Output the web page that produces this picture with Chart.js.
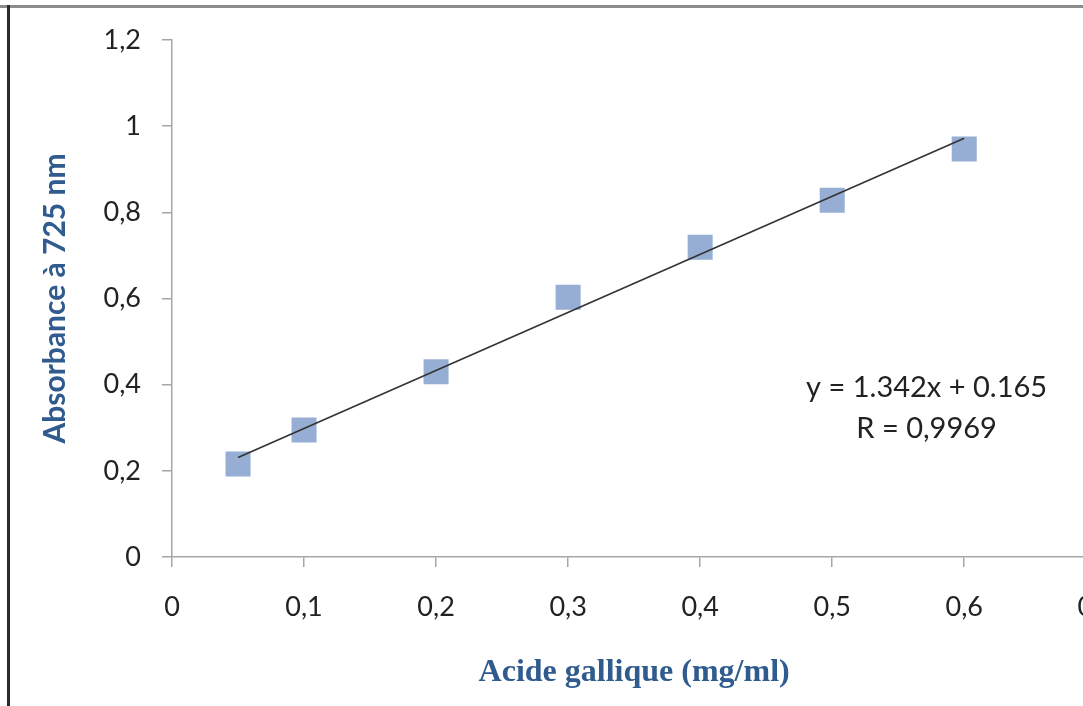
<!DOCTYPE html>
<html>
<head>
<meta charset="utf-8">
<script src="https://cdn.jsdelivr.net/npm/chart.js@4"></script>
<style>
  html, body { margin: 0; padding: 0; background: #fff; overflow: hidden; }
  #wrap { position: absolute; left: 0; top: 0; width: 1139px; height: 706px; }
  #frameTop { position: absolute; left: 0; top: 5px; width: 1083px; height: 3px; background: #8c8c8c; }
  #frameLeft { position: absolute; left: 7px; top: 5px; width: 3px; height: 701px; background: #2a2a2a; }
</style>
</head>
<body>
<div id="wrap"><canvas id="c" width="1139" height="706"></canvas></div>
<div id="frameTop"></div>
<div id="frameLeft"></div>
<script>
// Data
const concentrations = [0.05, 0.1, 0.2, 0.3, 0.4, 0.5, 0.6];
const absorbances   = [0.216, 0.295, 0.430, 0.603, 0.719, 0.828, 0.947];
const trendX = [0.05, 0.6];
const trendY = [0.231, 0.972];
const equationLines = ['y = 1.342x + 0.165', 'R = 0,9969'];
const xTitle = 'Acide gallique (mg/ml)';
const yTitle = 'Absorbance à 725 nm';

const fmt = v => String(Math.round(v * 10) / 10).replace('.', ',');

const equationPlugin = {
  id: 'equation',
  afterDatasetsDraw(chart) {
    const { ctx, scales } = chart;
    const cx = scales.x.getPixelForValue(0.5715);
    const y1 = scales.y.getPixelForValue(0.393);
    const y2 = scales.y.getPixelForValue(0.297);
    ctx.save();
    ctx.font = '29px Lato';
    ctx.fillStyle = '#222';
    ctx.textAlign = 'center';
    ctx.textBaseline = 'middle';
    ctx.fillText(equationLines[0], cx, y1);
    ctx.fillText(equationLines[1], cx, y2);
    ctx.restore();
  }
};

new Chart(document.getElementById('c'), {
  type: 'scatter',
  data: {
    datasets: [
      {
        label: 'Absorbance',
        data: concentrations.map((x, i) => ({ x, y: absorbances[i] })),
        pointStyle: 'rect',
        pointRadius: 17.7,
        pointHoverRadius: 17.7,
        backgroundColor: 'rgb(151,174,212)',
        borderWidth: 0,
        order: 2
      },
      {
        label: 'Tendance',
        type: 'line',
        data: trendX.map((x, i) => ({ x, y: trendY[i] })),
        borderColor: '#333',
        borderWidth: 1.6,
        pointRadius: 0,
        fill: false,
        order: 1
      }
    ]
  },
  options: {
    responsive: false,
    animation: false,
    events: [],
    layout: { padding: { top: 40, right: 24, left: 0, bottom: 0 } },
    plugins: { legend: { display: false }, tooltip: { enabled: false } },
    scales: {
      x: {
        type: 'linear',
        min: 0, max: 0.7,
        afterFit(s) { s.height = 149; },
        afterBuildTicks(s) { s.ticks = [0,0.1,0.2,0.3,0.4,0.5,0.6,0.7].map(v => ({ value: v })); },
        ticks: {
          callback: v => fmt(v),
          font: { family: 'Lato', size: 27 },
          color: '#222',
          padding: 24,
          maxRotation: 0
        },
        grid: { drawOnChartArea: false, tickLength: 10, color: '#a6a6a6', lineWidth: 1.5 },
        border: { color: '#a6a6a6', width: 1.5 },
        title: {
          display: true,
          text: xTitle,
          font: { family: 'Liberation Serif', size: 32, weight: 'bold' },
          color: '#2f5b8e',
          padding: { top: 0, bottom: 14 }
        }
      },
      y: {
        type: 'linear',
        min: 0, max: 1.2,
        afterFit(s) { s.width = 172; },
        afterBuildTicks(s) { s.ticks = [0,0.2,0.4,0.6,0.8,1,1.2].map(v => ({ value: v })); },
        ticks: {
          callback: v => fmt(v),
          font: { family: 'Lato', size: 27 },
          color: '#222',
          padding: 21
        },
        grid: { drawOnChartArea: false, tickLength: 10, color: '#a6a6a6', lineWidth: 1.5 },
        border: { color: '#a6a6a6', width: 1.5 },
        title: {
          display: true,
          text: yTitle,
          font: { family: 'Lato', size: 30, weight: 'bold' },
          color: '#2f5b8e',
          padding: { top: 37, bottom: 0 }
        }
      }
    }
  },
  plugins: [equationPlugin]
});
</script>
</body>
</html>
